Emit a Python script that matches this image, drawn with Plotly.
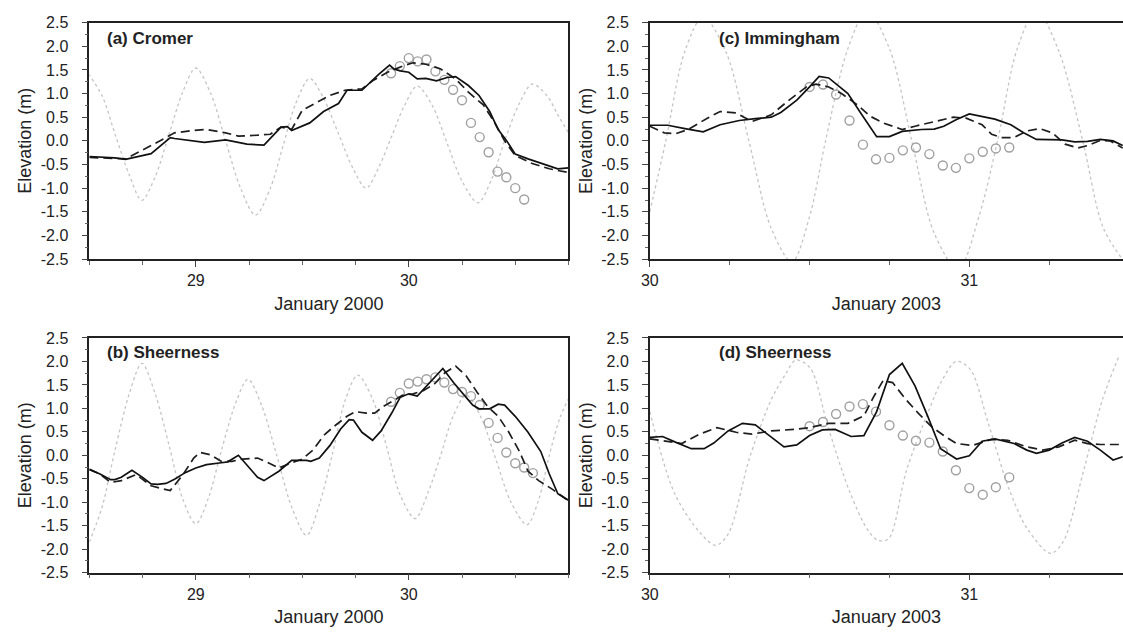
import plotly.graph_objects as go

# ---------------- Panel (a) Cromer, January 2000 ----------------
a_tide_t = [28.48, 28.56, 28.62, 28.69, 28.746, 28.81, 28.875, 28.94, 29.0, 29.07, 29.14, 29.21, 29.28,
            29.35, 29.41, 29.47, 29.535, 29.60, 29.67, 29.74, 29.80, 29.86, 29.92, 29.98, 30.04, 30.11,
            30.18, 30.25, 30.325, 30.39, 30.45, 30.52, 30.58, 30.65, 30.70, 30.76]
a_tide_v = [1.52, 0.95, 0.15, -0.75, -1.26, -0.75, 0.15, 1.05, 1.54, 1.0, 0.0, -1.0, -1.57,
            -1.0, -0.1, 0.8, 1.32, 0.9, 0.15, -0.6, -1.0, -0.55, 0.1, 0.75, 1.16, 0.75,
            -0.05, -0.85, -1.31, -0.8, 0.0, 0.8, 1.2, 0.95, 0.55, 0.1]
a_solid_t = [28.5, 28.62, 28.67, 28.79, 28.88, 28.9, 29.04, 29.14, 29.24, 29.32, 29.4, 29.43, 29.45,
             29.535, 29.60, 29.67, 29.71, 29.78, 29.86, 29.91, 29.93, 29.96, 30.0, 30.04, 30.08,
             30.13, 30.18, 30.22, 30.28, 30.33, 30.38, 30.42, 30.46, 30.5, 30.56, 30.61, 30.66, 30.70, 30.75]
a_solid_v = [-0.33, -0.36, -0.39, -0.27, 0.07, 0.05, -0.03, 0.02, -0.07, -0.09, 0.29, 0.30, 0.22,
             0.38, 0.62, 0.79, 1.07, 1.07, 1.41, 1.60, 1.52, 1.48, 1.45, 1.31, 1.32,
             1.27, 1.34, 1.36, 1.17, 0.96, 0.62, 0.24, 0.0, -0.28, -0.38, -0.45, -0.52, -0.59, -0.57]
a_dash_t = [28.5, 28.6, 28.67, 28.79, 28.9, 28.99, 29.05, 29.14, 29.2, 29.29, 29.35, 29.40, 29.45,
            29.5, 29.57, 29.63, 29.7, 29.78, 29.83, 29.9, 29.97, 30.02, 30.08, 30.15, 30.22, 30.28,
            30.35, 30.4, 30.45, 30.5, 30.58, 30.66, 30.75]
a_dash_v = [-0.35, -0.37, -0.38, -0.10, 0.17, 0.22, 0.24, 0.17, 0.10, 0.12, 0.14, 0.29, 0.24,
            0.65, 0.82, 0.96, 1.07, 1.10, 1.27, 1.45, 1.58, 1.65, 1.62, 1.52, 1.31, 1.03,
            0.76, 0.41, 0.0, -0.31, -0.48, -0.59, -0.67]
a_obs_t = [29.917, 29.958, 30.0, 30.042, 30.083, 30.125, 30.167, 30.208, 30.25, 30.292, 30.333,
           30.375, 30.417, 30.458, 30.5, 30.542]
a_obs_v = [1.43, 1.58, 1.75, 1.68, 1.72, 1.47, 1.29, 1.08, 0.86, 0.38, 0.08, -0.24, -0.65, -0.77,
           -1.0, -1.24]

# ---------------- Panel (b) Sheerness, January 2000 ----------------
b_tide_t = [28.5, 28.56, 28.62, 28.69, 28.747, 28.81, 28.875, 28.94, 29.0, 29.06, 29.12, 29.19, 29.245,
            29.31, 29.38, 29.45, 29.52, 29.58, 29.64, 29.70, 29.76, 29.83, 29.895, 29.96, 30.03,
            30.09, 30.15, 30.21, 30.27, 30.34, 30.41, 30.48, 30.555, 30.61, 30.66, 30.71, 30.75]
b_tide_v = [-1.85, -1.1, 0.1, 1.35, 1.96, 1.3, 0.2, -0.95, -1.46, -0.9, 0.1, 1.15, 1.62,
            1.05, 0.0, -1.1, -1.71, -1.05, 0.0, 1.15, 1.71, 1.2, 0.2, -0.85, -1.35,
            -0.8, 0.0, 0.85, 1.28, 0.8, -0.1, -1.0, -1.48, -0.95, 0.0, 0.8, 1.2]
b_solid_t = [28.5, 28.55, 28.6, 28.62, 28.65, 28.7, 28.75, 28.79, 28.82, 28.86, 28.9, 28.95, 29.0,
             29.05, 29.12, 29.15, 29.2, 29.25, 29.29, 29.32, 29.39, 29.45, 29.52, 29.54, 29.58,
             29.63, 29.68, 29.72, 29.74, 29.78, 29.83, 29.87, 29.92, 29.96, 30.0, 30.04, 30.08,
             30.12, 30.16, 30.21, 30.27, 30.3, 30.33, 30.38, 30.42, 30.45, 30.5, 30.56, 30.62,
             30.66, 30.7, 30.75]
b_solid_v = [-0.30, -0.40, -0.52, -0.52, -0.47, -0.32, -0.47, -0.61, -0.62, -0.60, -0.51, -0.37, -0.27,
             -0.20, -0.16, -0.14, 0.0, -0.27, -0.47, -0.54, -0.34, -0.11, -0.11, -0.13, -0.06,
             0.21, 0.56, 0.76, 0.75, 0.49, 0.32, 0.52, 0.90, 1.24, 1.31, 1.26, 1.45,
             1.66, 1.85, 1.55, 1.24, 1.07, 0.99, 0.99, 1.09, 1.07, 0.83, 0.49, 0.08,
             -0.40, -0.82, -0.96]
b_dash_t = [28.5, 28.55, 28.6, 28.65, 28.72, 28.79, 28.84, 28.88, 28.94, 28.99, 29.02, 29.07, 29.12,
            29.17, 29.22, 29.29, 29.34, 29.39, 29.45, 29.5, 29.55, 29.6, 29.65, 29.71, 29.75, 29.8,
            29.84, 29.88, 29.93, 29.97, 30.02, 30.07, 30.12, 30.17, 30.22, 30.27, 30.32, 30.37,
            30.42, 30.47, 30.52, 30.56, 30.61, 30.67, 30.75]
b_dash_v = [-0.30, -0.40, -0.58, -0.54, -0.41, -0.65, -0.71, -0.75, -0.41, -0.06, 0.06, 0.01, -0.13,
            -0.13, -0.08, -0.06, -0.16, -0.27, -0.16, -0.08, 0.11, 0.42, 0.62, 0.83, 0.93, 0.90,
            0.90, 1.04, 1.17, 1.28, 1.31, 1.38, 1.52, 1.76, 1.90, 1.69, 1.35, 1.04,
            0.83, 0.49, 0.08, -0.34, -0.54, -0.71, -0.97]
b_obs_t = [29.917, 29.958, 30.0, 30.042, 30.083, 30.125, 30.167, 30.208, 30.25, 30.292, 30.333,
           30.375, 30.417, 30.458, 30.5, 30.542, 30.583]
b_obs_v = [1.14, 1.33, 1.53, 1.57, 1.62, 1.66, 1.55, 1.41, 1.35, 1.26, 1.07, 0.69, 0.37, 0.06,
           -0.17, -0.26, -0.38]

# ---------------- Panel (c) Immingham, January 2003 ----------------
c_tide_t = [30.0, 30.05, 30.11, 30.167, 30.24, 30.31, 30.38, 30.445, 30.50, 30.55, 30.62, 30.68,
            30.75, 30.82, 30.89, 30.965, 31.03, 31.09, 31.15, 31.21, 31.28, 31.355, 31.42, 31.49]
c_tide_v = [-1.5, 0.0, 1.9, 2.62, 1.85, 0.0, -1.85, -2.56, -1.6, 0.0, 1.95, 2.75,
            1.95, 0.0, -1.95, -2.72, -1.6, 0.05, 1.95, 2.75, 1.9, 0.0, -1.85, -2.6]
c_solid_t = [30.0, 30.056, 30.11, 30.167, 30.22, 30.28, 30.33, 30.38, 30.41, 30.46, 30.5, 30.53,
             30.56, 30.59, 30.62, 30.66, 30.71, 30.75, 30.79, 30.85, 30.89, 30.92, 30.96, 31.0,
             31.04, 31.08, 31.13, 31.17, 31.21, 31.25, 31.29, 31.33, 31.37, 31.41, 31.45, 31.48]
c_solid_v = [0.33, 0.33, 0.26, 0.19, 0.34, 0.43, 0.47, 0.50, 0.60, 0.86, 1.14, 1.36,
             1.33, 1.17, 1.00, 0.59, 0.09, 0.09, 0.20, 0.24, 0.25, 0.31, 0.45, 0.57,
             0.52, 0.46, 0.34, 0.17, 0.03, 0.03, 0.02, -0.02, -0.01, 0.03, 0.0, -0.10]
c_dash_t = [30.0, 30.045, 30.08, 30.12, 30.18, 30.22, 30.27, 30.32, 30.38, 30.43, 30.49, 30.52,
            30.56, 30.6, 30.65, 30.69, 30.73, 30.79, 30.83, 30.89, 30.95, 30.99, 31.04, 31.07,
            31.1, 31.14, 31.18, 31.22, 31.26, 31.3, 31.34, 31.37, 31.41, 31.44, 31.48]
c_dash_v = [0.31, 0.17, 0.15, 0.24, 0.48, 0.62, 0.59, 0.41, 0.55, 0.83, 1.14, 1.20,
            1.14, 1.00, 0.76, 0.52, 0.38, 0.24, 0.31, 0.41, 0.50, 0.48, 0.34, 0.14,
            0.07, 0.07, 0.21, 0.26, 0.17, -0.07, -0.15, -0.10, 0.01, 0.0, -0.15]
c_obs_t = [30.5, 30.542, 30.583, 30.625, 30.667, 30.708, 30.75, 30.792, 30.833, 30.875, 30.917,
           30.958, 31.0, 31.042, 31.083, 31.125]
c_obs_v = [1.14, 1.19, 0.98, 0.43, -0.08, -0.39, -0.36, -0.20, -0.14, -0.28, -0.52, -0.57, -0.37,
           -0.23, -0.16, -0.14]

# ---------------- Panel (d) Sheerness, January 2003 ----------------
d_tide_t = [30.0, 30.078, 30.156, 30.206, 30.245, 30.312, 30.379, 30.424, 30.457, 30.502, 30.557,
            30.624, 30.68, 30.713, 30.747, 30.803, 30.87, 30.914, 30.959, 31.003, 31.059, 31.126,
            31.182, 31.254, 31.293, 31.36, 31.416, 31.47]
d_tide_v = [0.93, -0.82, -1.64, -1.92, -1.68, -0.06, 1.17, 1.72, 2.03, 1.86, 0.62,
            -0.75, -1.57, -1.81, -1.78, -0.33, 0.90, 1.59, 2.0, 1.83, 0.69, -0.75,
            -1.57, -2.09, -1.85, -0.27, 1.17, 2.14]
d_solid_t = [30.0, 30.04, 30.08, 30.13, 30.17, 30.2, 30.245, 30.29, 30.33, 30.375, 30.42, 30.46,
             30.5, 30.54, 30.58, 30.63, 30.67, 30.71, 30.75, 30.79, 30.83, 30.87, 30.91, 30.96,
             31.0, 31.04, 31.08, 31.14, 31.18, 31.21, 31.25, 31.29, 31.33, 31.37, 31.41, 31.45, 31.48]
d_solid_v = [0.38, 0.40, 0.28, 0.14, 0.14, 0.26, 0.52, 0.68, 0.65, 0.42, 0.18, 0.22,
             0.42, 0.54, 0.55, 0.40, 0.42, 0.93, 1.72, 1.96, 1.48, 0.83, 0.14, -0.08,
             -0.01, 0.30, 0.35, 0.25, 0.11, 0.04, 0.11, 0.26, 0.38, 0.30, 0.11, -0.10, -0.03]
d_dash_t = [30.0, 30.056, 30.1, 30.156, 30.21, 30.27, 30.32, 30.38, 30.45, 30.5, 30.56, 30.62,
            30.67, 30.7, 30.73, 30.76, 30.8, 30.84, 30.88, 30.92, 30.96, 31.01, 31.07, 31.12,
            31.18, 31.23, 31.28, 31.33, 31.37, 31.41, 31.48]
d_dash_v = [0.35, 0.30, 0.25, 0.45, 0.59, 0.49, 0.45, 0.52, 0.55, 0.59, 0.68, 0.68,
            0.84, 1.24, 1.59, 1.55, 1.20, 0.90, 0.62, 0.42, 0.25, 0.21, 0.34, 0.32,
            0.18, 0.11, 0.18, 0.32, 0.25, 0.23, 0.23]
d_obs_t = [30.5, 30.542, 30.583, 30.625, 30.667, 30.708, 30.75, 30.792, 30.833, 30.875, 30.917,
           30.958, 31.0, 31.042, 31.083, 31.125]
d_obs_v = [0.62, 0.71, 0.88, 1.04, 1.09, 0.93, 0.64, 0.42, 0.31, 0.27, 0.08, -0.32, -0.70,
           -0.84, -0.68, -0.47]

# ---------------- axis labels ----------------
panel_labels = ["(a) Cromer", "(c) Immingham", "(b) Sheerness", "(d) Sheerness"]
x_titles = ["January 2000", "January 2003", "January 2000", "January 2003"]
y_title = "Elevation (m)"
y_tick_vals = [-2.5, -2.0, -1.5, -1.0, -0.5, 0.0, 0.5, 1.0, 1.5, 2.0, 2.5]
y_tick_text = ["-2.5", "-2.0", "-1.5", "-1.0", "-0.5", "0.0", "0.5", "1.0", "1.5", "2.0", "2.5"]
x_ranges = [[28.5, 30.75], [30.0, 31.481], [28.5, 30.75], [30.0, 31.481]]

W, H = 1123, 639
FONT = "Arial, 'Liberation Sans', Helvetica, sans-serif"

panels = [
    (a_tide_t, a_tide_v, a_obs_t, a_obs_v, a_dash_t, a_dash_v, a_solid_t, a_solid_v),
    (c_tide_t, c_tide_v, c_obs_t, c_obs_v, c_dash_t, c_dash_v, c_solid_t, c_solid_v),
    (b_tide_t, b_tide_v, b_obs_t, b_obs_v, b_dash_t, b_dash_v, b_solid_t, b_solid_v),
    (d_tide_t, d_tide_v, d_obs_t, d_obs_v, d_dash_t, d_dash_v, d_solid_t, d_solid_v),
]

# pixel boxes (left, right, top, bottom)
boxes = [(81, 564, 15, 258), (646, 1123, 15, 258), (81, 564, 339, 580), (646, 1123, 339, 580)]
label_px = [(97, 31), (714, 31), (97, 354), (714, 354)]

fig = go.Figure()
layout = dict(
    width=W, height=H, margin=dict(l=0, r=0, t=0, b=0), autosize=False,
    paper_bgcolor="white", plot_bgcolor="white", showlegend=False,
    font=dict(family=FONT, size=16, color="#222"),
)
annotations = []
for i, (tt, tv, ot, ov, dt, dv, st, sv) in enumerate(panels):
    n = "" if i == 0 else str(i + 1)
    xr, yr = "x" + n, "y" + n
    fig.add_trace(go.Scatter(x=tt, y=tv, mode="lines", xaxis=xr, yaxis=yr,
                             line=dict(color="#c4c4c4", width=1.3, dash="dot", shape="spline", smoothing=0.9)))
    fig.add_trace(go.Scatter(x=ot, y=ov, mode="markers", xaxis=xr, yaxis=yr,
                             marker=dict(symbol="circle-open", size=9, color="#a0a0a0", line=dict(width=1.4, color="#a0a0a0"))))
    fig.add_trace(go.Scatter(x=dt, y=dv, mode="lines", xaxis=xr, yaxis=yr,
                             line=dict(color="#1e1e1e", width=1.7, dash="9px,5px")))
    fig.add_trace(go.Scatter(x=st, y=sv, mode="lines", xaxis=xr, yaxis=yr,
                             line=dict(color="#111111", width=1.7)))
    l, r, t, b = boxes[i]
    right_visible = r < W
    layout["xaxis" + n] = dict(
        domain=[l / W, r / W], range=x_ranges[i], anchor=yr,
        showline=True, linecolor="#222", linewidth=1.6, mirror=True,
        ticks="outside", ticklen=6, tickwidth=1.2, tickcolor="#444", dtick=1, tick0=0,
        minor=dict(dtick=0.25, tick0=0, ticks="outside", ticklen=4, tickcolor="#666", tickwidth=1),
        showgrid=False, zeroline=False, ticklabelstandoff=0,
        tickfont=dict(size=16, color="#222"),
        title=dict(text=x_titles[i], font=dict(size=18, color="#222"), standoff=9),
    )
    layout["yaxis" + n] = dict(
        domain=[1 - b / H, 1 - t / H], range=[-2.5, 2.5], anchor=xr,
        showline=True, linecolor="#222", linewidth=1.6, mirror=right_visible,
        ticks="outside", ticklen=6, tickwidth=1.2, tickcolor="#444",
        tickvals=y_tick_vals, ticktext=y_tick_text,
        minor=dict(dtick=0.25, tick0=0, ticks="outside", ticklen=3, tickcolor="#666", tickwidth=1),
        showgrid=False, zeroline=False, ticklabelstandoff=10,
        tickfont=dict(size=16, color="#222"),
        title=dict(text=y_title, font=dict(size=18, color="#222"), standoff=4),
    )
    lx, ly = label_px[i]
    annotations.append(dict(
        text="<b>" + panel_labels[i] + "</b>", showarrow=False,
        xref="x" + n + " domain", yref="y" + n + " domain",
        x=(lx - l) / (r - l), y=1 - (ly - t) / (b - t),
        xanchor="left", yanchor="middle", font=dict(size=17, color="#222"),
    ))
layout["annotations"] = annotations
fig.update_layout(**layout)
fig.write_html("out.html")
